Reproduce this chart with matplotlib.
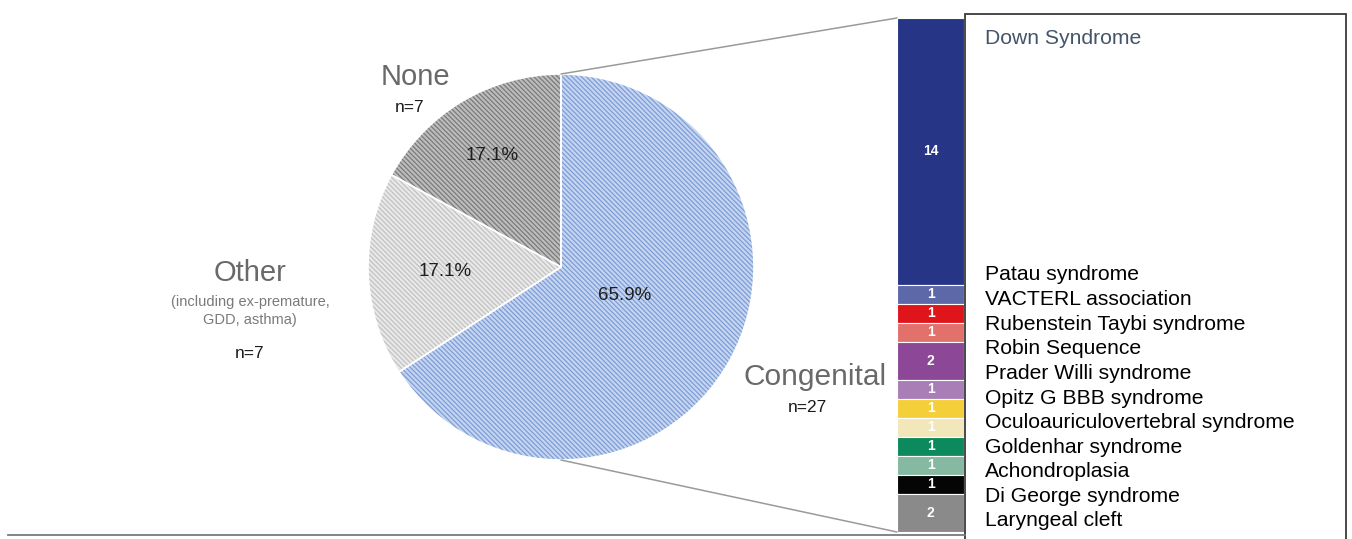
import matplotlib
matplotlib.use("Agg")
import matplotlib.pyplot as plt
from matplotlib.patches import Rectangle, ConnectionPatch
from matplotlib.lines import Line2D

plt.rcParams["font.family"] = ["Liberation Sans", "DejaVu Sans"]
plt.rcParams["hatch.linewidth"] = 0.9

# pie: cause groups (clockwise from 12 o'clock)
groups = ["Congenital", "Other", "None"]
counts = [27, 7, 7]
pie_fill = ["#c6d5f0", "#e9e9e9", "#bdbdbd"]
pie_hatch = ["#7d9dd7", "#c2c2c2", "#7a7a7a"]

# stacked bar: breakdown of congenital causes (top to bottom)
syndromes = ["Down Syndrome", "Patau syndrome", "VACTERL association",
             "Rubenstein Taybi syndrome", "Robin Sequence", "Prader Willi syndrome",
             "Opitz G BBB syndrome", "Oculoauriculovertebral syndrome",
             "Goldenhar syndrome", "Achondroplasia", "Di George syndrome",
             "Laryngeal cleft"]
syn_counts = [14, 1, 1, 1, 2, 1, 1, 1, 1, 1, 1, 2]
syn_colors = ["#263585", "#5d68a8", "#e0151b", "#e2716c", "#8c4797", "#a97db6",
              "#f5cf3a", "#f2e6bb", "#0d8a5d", "#85b9a1", "#050505", "#8a8a8a"]

W, H = 1352, 539
fig = plt.figure(figsize=(W / 100, H / 100), dpi=100)


def fx(x):
    return x / W


def fy(y):
    return 1 - y / H


# ---- pie
cx, cy, r = 561, 267, 193
ax = fig.add_axes([fx(cx - r), fy(cy + r), 2 * r / W, 2 * r / H])
wedges, _ = ax.pie(counts, startangle=90, counterclock=False, radius=1,
                   colors=pie_fill, wedgeprops=dict(linewidth=0))
for w, hc in zip(wedges, pie_hatch):
    w.set_hatch("\\" * 7)
    w.set_edgecolor(hc)
    w.set_linewidth(0)
ax.pie(counts, startangle=90, counterclock=False, radius=1,
       colors=["none"] * 3, wedgeprops=dict(linewidth=1.2, edgecolor="white"))
ax.set_xlim(-1, 1)
ax.set_ylim(-1, 1)
ax.axis("off")

pcts = [100 * c / sum(counts) for c in counts]
pct_pos = [(625, 295), (445, 272), (492, 155)]
for p, (x, y) in zip(pcts, pct_pos):
    fig.text(fx(x), fy(y), f"{p:.1f}%", ha="center", va="center",
             fontsize=13.5, color="#1e1e1e")

grey = "#696969"
fig.text(fx(415), fy(77), "None", ha="center", va="center", fontsize=21, color=grey)
fig.text(fx(410), fy(108), f"n={counts[2]}", ha="center", va="center",
         fontsize=12.5, color="#1a1a1a")
fig.text(fx(250), fy(273), "Other", ha="center", va="center", fontsize=21, color=grey)
fig.text(fx(250), fy(311), "(including ex-premature,\nGDD, asthma)", ha="center",
         va="center", fontsize=10.5, color="#7a7a7a", linespacing=1.45)
fig.text(fx(250), fy(353), f"n={counts[1]}", ha="center", va="center",
         fontsize=12.5, color="#1a1a1a")
fig.text(fx(815), fy(377), "Congenital", ha="center", va="center", fontsize=21.5,
         color=grey)
fig.text(fx(807), fy(408), f"n={counts[0]}", ha="center", va="center",
         fontsize=12.5, color="#1a1a1a")

# ---- stacked bar
bx0, bx1, by0, by1 = 897, 964, 18, 532
axb = fig.add_axes([fx(bx0), fy(by1), (bx1 - bx0) / W, (by1 - by0) / H])
bottom = 0
for n, c in zip(syn_counts, syn_colors):
    axb.bar(0, n, bottom=bottom, width=1, color=c, edgecolor="white", linewidth=0.8)
    axb.text(0, bottom + n / 2, str(n), ha="center", va="center", fontsize=10,
             fontweight="bold", color="white")
    bottom += n
axb.set_xlim(-0.5, 0.5)
axb.set_ylim(sum(syn_counts), 0)
axb.axis("off")

# connector lines pie -> bar
for (px, py), (qx, qy) in [((0, 1), (-0.5, 0)), ((0, -1), (-0.5, sum(syn_counts)))]:
    con = ConnectionPatch(xyA=(px, py), coordsA=ax.transData, xyB=(qx, qy),
                          coordsB=axb.transData, color="#9a9a9a", lw=1.1)
    fig.add_artist(con)

# ---- legend box
fig.add_artist(Rectangle((fx(965), fy(560)), (1346 - 965) / W, (560 - 14) / H,
                         transform=fig.transFigure, facecolor="white",
                         edgecolor="#3a3a3a", lw=1.3))
fig.text(fx(985), fy(38), syndromes[0], ha="left", va="center", fontsize=15.2,
         color="#44546a")
for i, name in enumerate(syndromes[1:]):
    fig.text(fx(985), fy(275 + i * 24.6), name, ha="left", va="center",
             fontsize=15.2, color="black")

# baseline
fig.add_artist(Line2D([fx(8), fx(965)], [fy(535), fy(535)], transform=fig.transFigure,
                      color="#7a7a7a", lw=1.3))

fig.savefig("out.png", dpi=100)
